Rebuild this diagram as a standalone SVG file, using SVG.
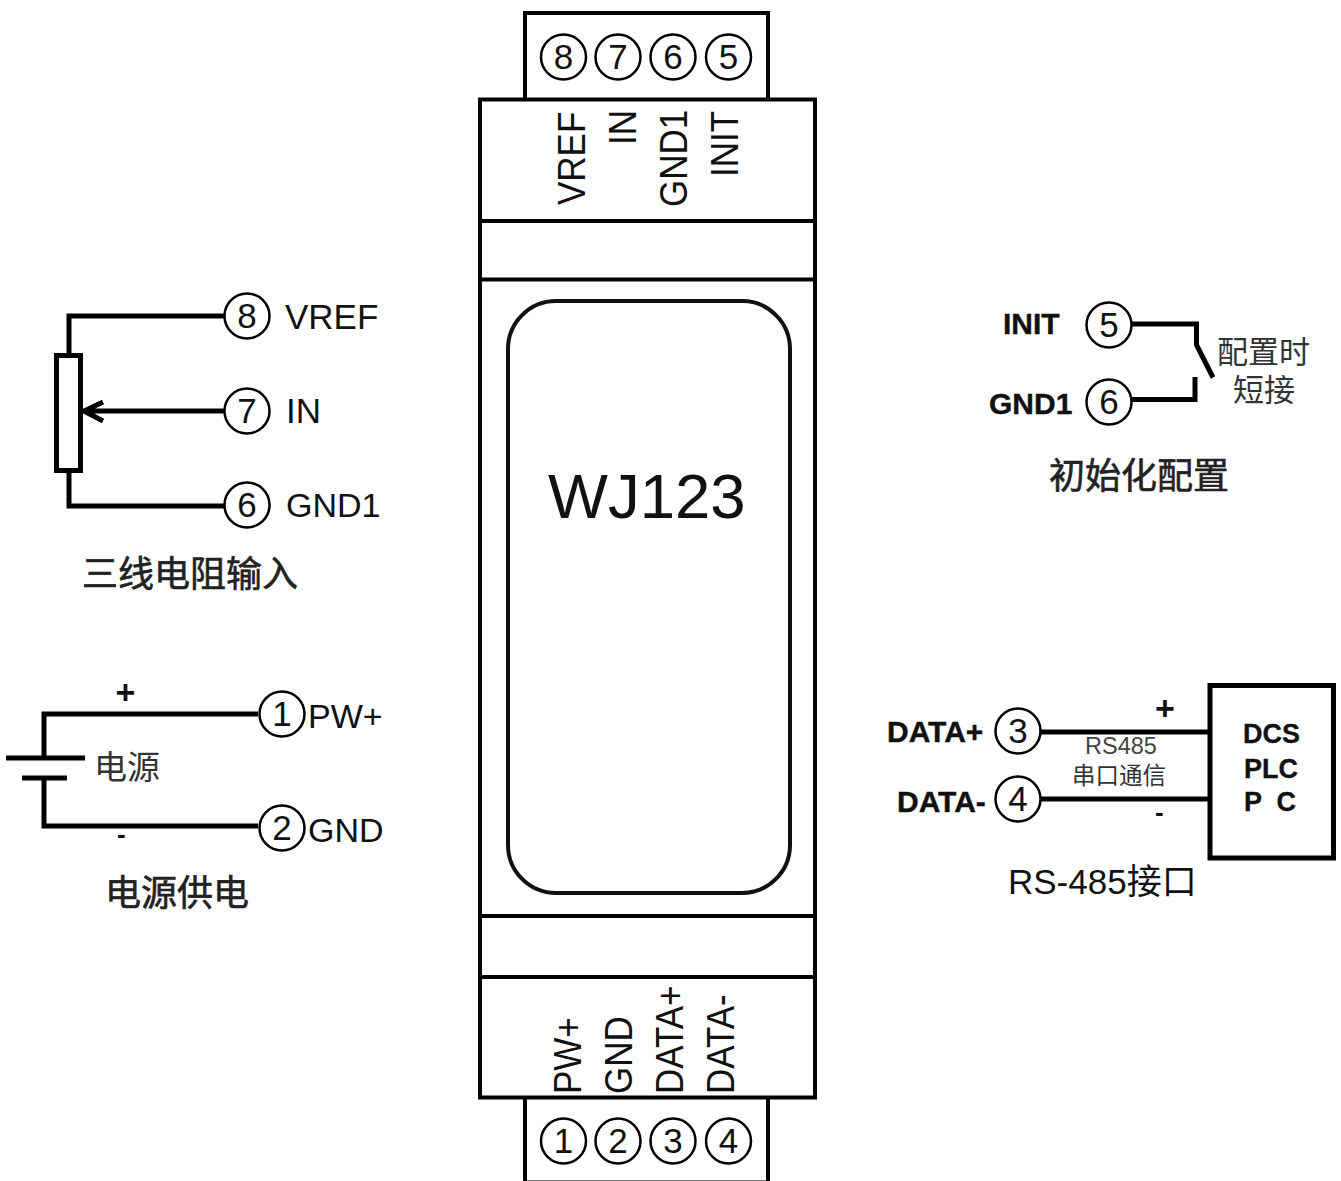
<svg xmlns="http://www.w3.org/2000/svg" width="1341" height="1181" viewBox="0 0 1341 1181">
<style>
text{font-family:"Liberation Sans",Arial,"Noto Sans CJK SC",sans-serif;fill:#111}
.box{fill:#fff;stroke:#000;stroke-width:4}
.div{fill:none;stroke:#000;stroke-width:4}
.wire{fill:none;stroke:#000;stroke-width:5}
.c{fill:#fff;stroke:#000;stroke-width:2.500}
.n{font-size:35px;text-anchor:middle}
.v{font-size:35px}
.l{font-size:34px}
.b{font-size:30px;font-weight:700;stroke:#111;stroke-width:.4}
.d{font-size:27px;font-weight:700;white-space:pre;stroke:#111;stroke-width:.3}
.t{font-family:"Noto Sans CJK SC",sans-serif;font-size:36px;fill:#222;stroke:#222;stroke-width:.6}
.s{font-family:"Noto Sans CJK SC",sans-serif;fill:#333}
.m{text-anchor:middle;font-size:34px;font-weight:700}
</style>
<defs>
<g id="ring"><circle class="c" r="22.500"/></g>
</defs>
<g id="connectors">
<path class="wire" d="M225 316H69V355M69 471V506H225"/>
<path class="wire" d="M225 411H84M103 402L84 411L103 421"/>
<path class="wire" d="M258 714H44V758M44 778V826H258"/>
<path class="wire" d="M6 758H85M22 778H67"/>
<path class="wire" d="M1131 324H1196.500V345L1213 377.500M1131 399.500H1195V377"/>
<path class="wire" d="M1040 732H1210M1040 799H1210"/>
</g>
<g id="module">
<path class="box" d="M525 99V13H768V99"/>
<path d="M525 1180.500H768" fill="none" stroke="#777" stroke-width="1"/>
<path class="box" d="M525 1098V1181M768 1098V1181"/>
<rect class="box" x="480" y="99.500" width="335" height="998"/>
<path class="div" d="M480 221H815M480 279.500H815M480 916H815M480 977H815"/>
<rect x="508" y="301" width="282" height="592" rx="48" fill="#fff" stroke="#111" stroke-width="4"/>
<text x="548" y="518" font-size="63.500">WJ123</text>
<text class="v" transform="translate(585 205) rotate(-90) scale(1 1.100)">VREF</text>
<text class="v" transform="translate(636 145) rotate(-90) scale(1 1.100)">IN</text>
<text class="v" transform="translate(687 207) rotate(-90) scale(1 1.100)">GND1</text>
<text class="v" transform="translate(738 177) rotate(-90) scale(1 1.100)">INIT</text>
<text class="v" transform="translate(581 1094) rotate(-90) scale(1 1.100)">PW+</text>
<text class="v" transform="translate(632 1094) rotate(-90) scale(1 1.100)">GND</text>
<text class="v" transform="translate(683 1094) rotate(-90) scale(1 1.100)">DATA+</text>
<text class="v" transform="translate(734 1094) rotate(-90) scale(1 1.100)">DATA-</text>
</g>
<g id="top-terminals">
<use href="#ring" x="563.500" y="57"/><text class="n" x="563.500" y="69">8</text>
<use href="#ring" x="618" y="57"/><text class="n" x="618" y="69">7</text>
<use href="#ring" x="673" y="57"/><text class="n" x="673" y="69">6</text>
<use href="#ring" x="728.500" y="57"/><text class="n" x="728.500" y="69">5</text>
</g>
<g id="bottom-terminals">
<use href="#ring" x="563.500" y="1141"/><text class="n" x="563.500" y="1153">1</text>
<use href="#ring" x="618" y="1141"/><text class="n" x="618" y="1153">2</text>
<use href="#ring" x="673" y="1141"/><text class="n" x="673" y="1153">3</text>
<use href="#ring" x="728.500" y="1141"/><text class="n" x="728.500" y="1153">4</text>
</g>
<g id="resistor-input">
<rect x="56.500" y="355.500" width="24" height="115" fill="#fff" stroke="#000" stroke-width="5"/>
<use href="#ring" x="247" y="316"/><text class="n" x="247" y="328">8</text>
<use href="#ring" x="247" y="411"/><text class="n" x="247" y="423">7</text>
<use href="#ring" x="247" y="505"/><text class="n" x="247" y="517">6</text>
<text class="v" x="285" y="329">VREF</text>
<text class="v" x="286" y="423">IN</text>
<text class="l" x="286" y="517">GND1</text>
<text class="t" x="82" y="587">三线电阻输入</text>
</g>
<g id="power-supply">
<use href="#ring" x="282" y="714"/><text class="n" x="282" y="726">1</text>
<use href="#ring" x="282" y="828"/><text class="n" x="282" y="840">2</text>
<text class="l" x="308" y="728">PW+</text>
<text class="l" x="308" y="842">GND</text>
<text class="m" x="125.500" y="704">+</text>
<text x="117" y="843" font-size="26" font-weight="700">-</text>
<text class="s" x="94" y="779" font-size="33">电源</text>
<text class="t" x="105" y="906" font-size="35">电源供电</text>
</g>
<g id="init-config">
<use href="#ring" x="1109" y="325"/><text class="n" x="1109" y="337">5</text>
<use href="#ring" x="1109" y="402"/><text class="n" x="1109" y="414">6</text>
<text class="b" x="1003" y="334">INIT</text>
<text class="b" x="989" y="414">GND1</text>
<text class="s" x="1217" y="363" font-size="31">配置时</text>
<text class="s" x="1233" y="401" font-size="31">短接</text>
<text class="t" x="1049" y="489">初始化配置</text>
</g>
<g id="rs485">
<rect x="1210" y="685.500" width="123.500" height="172.500" fill="#fff" stroke="#000" stroke-width="5"/>
<use href="#ring" x="1018" y="731"/><text class="n" x="1018" y="743">3</text>
<use href="#ring" x="1018" y="799"/><text class="n" x="1018" y="811">4</text>
<text class="b" x="887" y="742">DATA+</text>
<text class="b" x="897" y="812" font-size="29">DATA-</text>
<text class="m" x="1165" y="720">+</text>
<text x="1155" y="821" font-size="26" font-weight="700">-</text>
<text x="1085" y="754" font-size="23.500" style="fill:#444">RS485</text>
<text class="s" x="1072" y="784" font-size="23.500">串口通信</text>
<text class="d" x="1243" y="743">DCS</text>
<text class="d" x="1244" y="778">PLC</text>
<text class="d" x="1244" y="811">P  C</text>
<text x="1008" y="894" font-size="35">RS-485接口</text>
</g>
</svg>
